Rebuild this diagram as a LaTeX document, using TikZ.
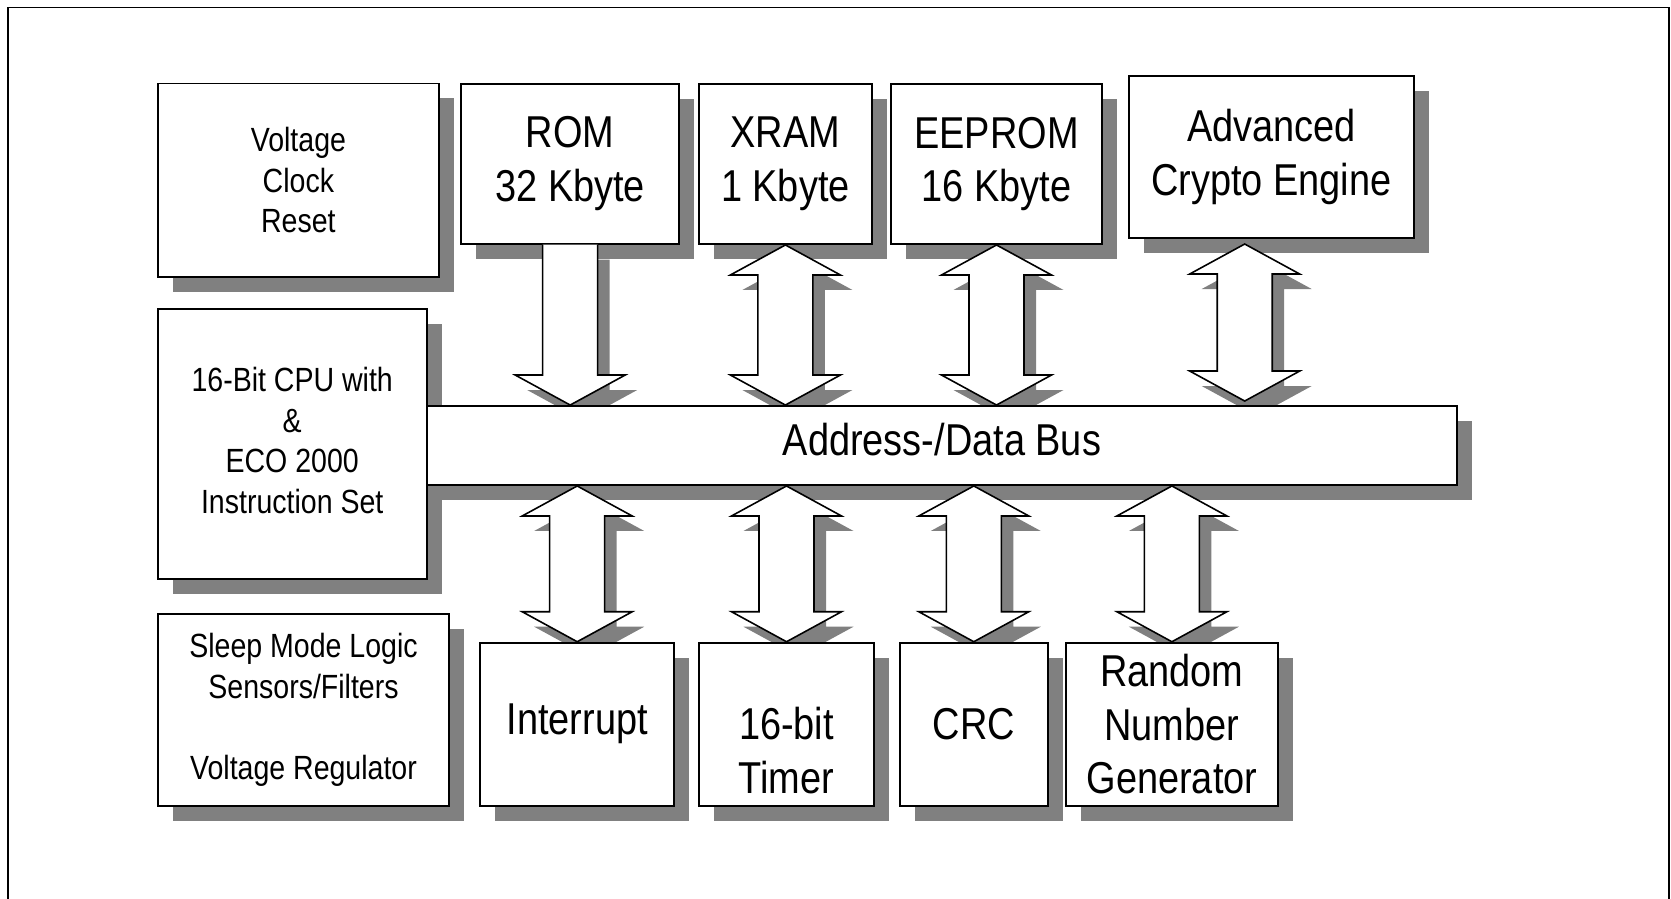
\documentclass[tikz,border=0pt]{standalone}
\usepackage{fontspec}
\setmainfont[FakeStretch=0.85]{Liberation Sans}
\usetikzlibrary{calc,shadows}
\pgfdeclarelayer{background}
\pgfsetlayers{background,main}

\newcommand{\bigtext}{\fontsize{25.4}{30.6}\selectfont}
\newcommand{\smalltext}{\fontsize{19.1}{23}\selectfont}

% double arrow between a top tip and a bottom tip
\newcommand{\dualarrow}[3][]{%
  \draw[#1] (#2) -- ++(-55,30) -- ++(27.5,0) -- ($(#3)+(-27.5,-30)$)
    -- ++(-27.5,0) -- (#3) -- ++(55,-30) -- ++(-27.5,0)
    -- ($(#2)+(27.5,30)$) -- ++(27.5,0) -- cycle;}
% one way arrow, shaft starts at #2, tip at #3
\newcommand{\singlearrow}[3][]{%
  \draw[#1] ($(#2)+(-27.5,0)$) -- ($(#3)+(-27.5,-30)$) -- ++(-27.5,0) -- (#3)
    -- ++(55,-30) -- ++(-27.5,0) -- ($(#2)+(27.5,0)$);}

\tikzset{
  unit/.style={draw, fill=white, line width=1.1pt, inner sep=0pt, align=center,
    drop shadow={shadow xshift=0.3cm, shadow yshift=-0.3cm, opacity=1,
      fill=black!50, draw=none}},
  sized/.style 2 args={minimum width=#1*0.02cm, minimum height=#2*0.02cm},
  busarrow/.style={draw, fill=white, line width=0.9pt},
  arrowshadow/.style={fill=black!50, draw=none},
}

\begin{document}
\begin{tikzpicture}[x=0.02cm, y=-0.02cm]
\useasboundingbox (0,0) rectangle (1671,899);
% outer frame, open at the bottom
\draw[line width=1.1pt] (8.3,899) |- (1668.6,7.5) -- (1668.6,899);

% top row
\node[unit, sized={281.3}{193.8}, font=\smalltext] (volt) at (298.4,180.4) {Voltage\\Clock\\Reset};
\node[unit, sized={218.3}{159.7}, font=\bigtext] (rom) at (570.2,163.9) {ROM\\32 Kbyte};
\node[unit, sized={172.7}{160}, font=\bigtext] (xram) at (785.4,164) {XRAM\\1 Kbyte};
\node[unit, sized={211}{160}, font=\bigtext] (eeprom) at (996.5,164) {EEPROM\\16 Kbyte};
\node[unit, sized={285.6}{161.9}, font=\bigtext] (crypto) at (1271.4,156.7) {Advanced\\Crypto Engine};

% middle row
\node[unit, sized={269}{269.5}, font=\smalltext, text depth=4pt] (cpu) at (292.2,443.8) {16-Bit CPU with\\\&\\ECO 2000\\Instruction Set};
\node[unit, sized={1029.7}{79}, font=\bigtext, text depth=7.5pt] (bus) at (941.9,445.5) {Address-/Data Bus};

% bottom row
\node[unit, sized={291.6}{191.7}, font=\smalltext] (sleep) at (303.5,709.9) {Sleep Mode Logic\\Sensors/Filters\\[23pt]Voltage Regulator};
\node[unit, sized={194.3}{163}, font=\bigtext] (intr) at (577.2,724.2) {Interrupt};
\node[unit, sized={174.9}{163}, font=\bigtext] (timer) at (786.5,724.2) {\vphantom{X}\\16-bit\\Timer};
\node[unit, sized={148.5}{163}, font=\bigtext] (crc) at (973.8,724.2) {CRC};
\node[unit, sized={211.8}{163}, font=\bigtext] (rng) at (1171.9,724.2) {Random\\Number\\Generator};

% arrow end points on the bus
\coordinate (romtip) at (bus.north -| rom.south);
\coordinate (xramtip) at (bus.north -| xram.south);
\coordinate (eepromtip) at (bus.north -| eeprom.south);
\coordinate (cryptotop) at ($(crypto.south)+(-26.7,5.4)$);
\path (bus.north -| cryptotop) ++(0,-4) coordinate (cryptotip);
\coordinate (intrtop) at (bus.south -| intr.north);
\coordinate (timertop) at (bus.south -| timer.north);
\coordinate (crctop) at (bus.south -| crc.north);
\coordinate (rngtop) at (bus.south -| rng.north);

% arrow shadows
\begin{pgfonlayer}{background}
  \begin{scope}[transform canvas={xshift=0.24cm, yshift=-0.3cm}]
    \singlearrow[arrowshadow]{rom.south}{romtip}
    \dualarrow[arrowshadow]{xram.south}{xramtip}
    \dualarrow[arrowshadow]{eeprom.south}{eepromtip}
    \dualarrow[arrowshadow]{cryptotop}{cryptotip}
    \dualarrow[arrowshadow]{intrtop}{intr.north}
    \dualarrow[arrowshadow]{timertop}{timer.north}
    \dualarrow[arrowshadow]{crctop}{crc.north}
    \dualarrow[arrowshadow]{rngtop}{rng.north}
  \end{scope}
\end{pgfonlayer}

% arrows
\singlearrow[busarrow]{rom.south}{romtip}
\dualarrow[busarrow]{xram.south}{xramtip}
\dualarrow[busarrow]{eeprom.south}{eepromtip}
\dualarrow[busarrow]{cryptotop}{cryptotip}
\dualarrow[busarrow]{intrtop}{intr.north}
\dualarrow[busarrow]{timertop}{timer.north}
\dualarrow[busarrow]{crctop}{crc.north}
\dualarrow[busarrow]{rngtop}{rng.north}
\end{tikzpicture}
\end{document}
